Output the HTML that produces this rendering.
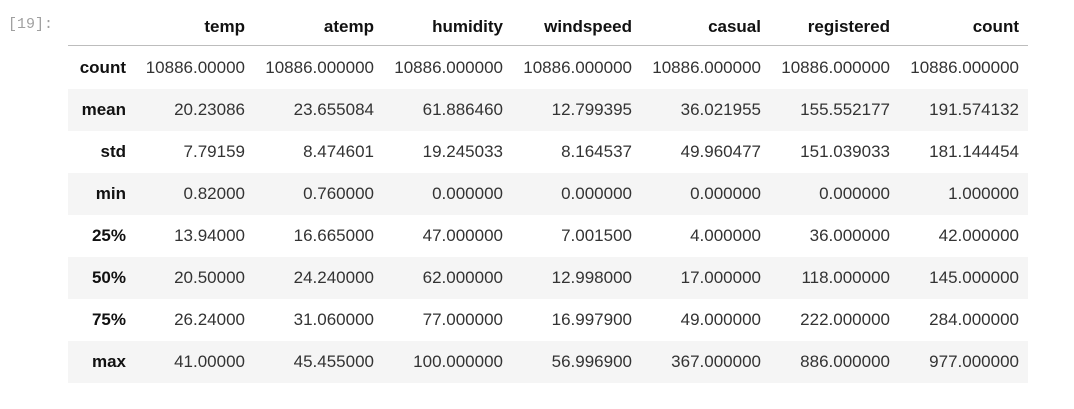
<!DOCTYPE html>
<html><head><meta charset="utf-8"><style>
body{margin:0;width:1074px;height:409px;background:#fff;font-family:"Liberation Sans",sans-serif;position:relative;overflow:hidden}
.prompt{position:absolute;left:8px;top:16px;font-family:"Liberation Mono",monospace;font-size:15px;color:#a0a0a0}
.row{position:absolute;left:68px;width:960px;height:42px}
.g{background:#f5f5f5}
.c{position:absolute;top:0;height:42px;line-height:42px;text-align:right;font-size:17px;color:#333;white-space:nowrap}
.h{font-weight:bold;color:#111}
.line{position:absolute;left:68px;top:45px;width:960px;height:1px;background:#bdbdbd}
</style></head><body>
<div class="prompt">[19]:</div>
<div id="t"></div>
<div class="line"></div>
<script>
const cols=["temp","atemp","humidity","windspeed","casual","registered","count"];
const idx=["count","mean","std","min","25%","50%","75%","max"];
const vals=[
["10886.00000","10886.000000","10886.000000","10886.000000","10886.000000","10886.000000","10886.000000"],
["20.23086","23.655084","61.886460","12.799395","36.021955","155.552177","191.574132"],
["7.79159","8.474601","19.245033","8.164537","49.960477","151.039033","181.144454"],
["0.82000","0.760000","0.000000","0.000000","0.000000","0.000000","1.000000"],
["13.94000","16.665000","47.000000","7.001500","4.000000","36.000000","42.000000"],
["20.50000","24.240000","62.000000","12.998000","17.000000","118.000000","145.000000"],
["26.24000","31.060000","77.000000","16.997900","49.000000","222.000000","284.000000"],
["41.00000","45.455000","100.000000","56.996900","367.000000","886.000000","977.000000"]];
const rights=[177,306,435,564,693,822,951];
const t=document.getElementById('t');
function mk(parent,cls,txt,right){const d=document.createElement('div');d.className=cls;d.textContent=txt;d.style.right=(960-right)+'px';parent.appendChild(d);return d;}
const hr=document.createElement('div');hr.className='row';hr.style.top='6px';


t.appendChild(hr);
cols.forEach((c,i)=>{const d=mk(hr,'c h',c,rights[i]);

});
idx.forEach((r,j)=>{const row=document.createElement('div');row.className='row'+(j%2?' g':'');row.style.top=(47+42*j)+'px';


t.appendChild(row);
const h=mk(row,'c h',r,58);


vals[j].forEach((v,i)=>{const d=mk(row,'c',v,rights[i]);

});});
</script>
</body></html>
